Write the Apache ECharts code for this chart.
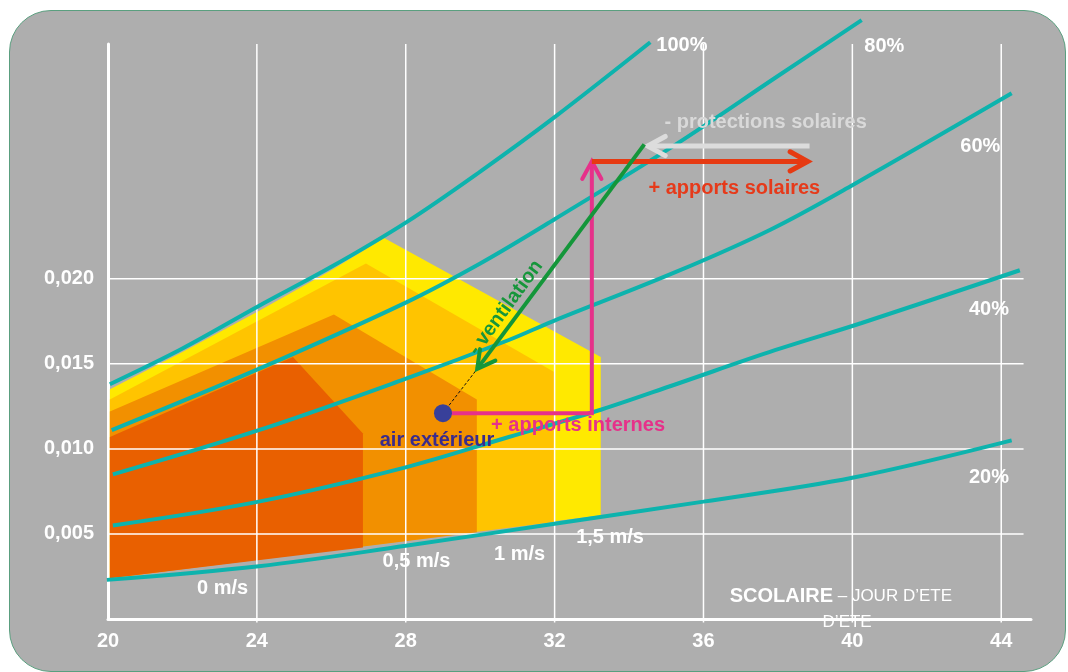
<!DOCTYPE html>
<html lang="fr">
<head>
    <meta charset="UTF-8">
    <title>Diagramme de l'air humide - scolaire, jour d'été</title>
    <style>
        body {
            margin: 0;
            width: 1068px;
            height: 672px;
            overflow: hidden;
            background: #ffffff;
            font-family: "Liberation Sans", Arial, sans-serif;
        }

        .panel {
            position: absolute;
            left: 9px;
            top: 10px;
            width: 1057px;
            height: 662px;
            box-sizing: border-box;
            background: #aeaeae;
            border: 1.5px solid #5a9f7f;
            border-radius: 42px;
        }

        #chart {
            position: absolute;
            left: 0;
            top: 0;
            width: 1068px;
            height: 672px;
        }
    </style>
    <script src="https://cdn.jsdelivr.net/npm/echarts@6/dist/echarts.min.js"></script>
</head>
<body>
    <div class="panel"></div>
    <div id="chart"></div>

    <script>
        // axes
        const xTicks = [20, 24, 28, 32, 36, 40, 44];
        const yTicks = [0.005, 0.010, 0.015, 0.020];

        // courbes d'humidité relative (température, humidité absolue)
        const rh100 = [[20.05, 0.0138], [22.0, 0.0159], [24.05, 0.0184], [26.0, 0.0207], [28.0, 0.0233], [30.0, 0.0263], [32.0, 0.0295], [34.57, 0.0339]];
        const rh80 = [[20.1, 0.0111], [24.05, 0.0147], [28.0, 0.0186], [30.0, 0.0209], [32.0, 0.0235], [35.26, 0.0279], [37.92, 0.0318], [40.25, 0.0352]];
        const rh60 = [[20.13, 0.0085], [24.05, 0.0111], [27.97, 0.0141], [30.77, 0.0164], [31.95, 0.0175], [35.26, 0.0204], [37.81, 0.0229], [40.0, 0.0255], [44.28, 0.0309]];
        const rh40 = [[20.13, 0.0055], [24.05, 0.0069], [27.97, 0.0089], [30.77, 0.0107], [33.24, 0.0123], [35.26, 0.0138], [37.92, 0.0158], [40.25, 0.0174], [44.5, 0.0205]];
        const rh20 = [[19.97, 0.0023], [24.05, 0.0031], [28.0, 0.0043], [32.0, 0.0056], [36.0, 0.0069], [40.0, 0.0083], [44.28, 0.0105]];
        const rhNames = ['100%', '80%', '60%', '40%', '20%'];
        const rhLabelPos = [[35.42, 0.0337], [40.86, 0.03365], [43.44, 0.0278], [43.67, 0.0182], [43.67, 0.0083]];

        // zones de confort selon la vitesse d'air
        const zoneSpeed15 = [[20.05, 0.0135], [22.0, 0.0157], [24.05, 0.0181], [26.0, 0.0205], [27.42, 0.0224], [33.24, 0.0154], [33.24, 0.0061], [20.05, 0.0024]];
        const zoneSpeed1 = [[20.05, 0.0129], [26.93, 0.0209], [32.0, 0.0145], [32.0, 0.0057], [20.05, 0.0024]];
        const zoneSpeed05 = [[20.05, 0.0122], [26.07, 0.0179], [29.91, 0.0129], [29.91, 0.0051], [20.05, 0.0024]];
        const zoneSpeed0 = [[20.05, 0.0107], [24.97, 0.0154], [26.85, 0.0109], [26.85, 0.0042], [20.05, 0.0024]];
        const speedNames = ['0 m/s', '0,5 m/s', '1 m/s', '1,5 m/s'];
        const speedLabelPos = [[23.08, 0.0018], [28.29, 0.0034], [31.06, 0.0038], [33.49, 0.0048]];

        // point d'air extérieur et évolutions
        const airPoint = [29.0, 0.0121];
        const internalPath = [[29.0, 0.0121], [33.0, 0.0121], [33.0, 0.0269]];
        const solarPath = [[33.0, 0.0269], [38.8, 0.0269]];
        const protectionPath = [[38.85, 0.0278], [34.5, 0.0278]];
        const ventilationPath = [[34.41, 0.0279], [29.92, 0.0147]];
        const dashPath = [[29.0, 0.0121], [29.92, 0.0147]];

        const notes = [
            ['air extérieur', 28.84, 0.0105],
            ['+ apports internes', 32.63, 0.0114],
            ['+ apports solaires', 36.83, 0.0253],
            ['- protections solaires', 37.67, 0.0292],
            ['- ventilation', 30.69, 0.0183]
        ];
        const footer = [['SCOLAIRE', ' – JOUR D’ETE', 39.69, 0.00135], ['', 'D’ETE', 39.86, -0.0002]];

        const FONT = '"Liberation Sans", Arial, sans-serif';
        const TEAL = '#0db3ad';
        const zoneColors = ['#ffe900', '#ffc400', '#f29000', '#e96000'];
        const noteStyles = [
            { color: '#3a2b8c' },
            { color: '#e6318a' },
            { color: '#e63a1a' },
            { color: '#d9d9d9' },
            { color: '#16963b', rotate: 54 }
        ];

        const zones = [zoneSpeed15, zoneSpeed1, zoneSpeed05, zoneSpeed0];
        const arrows = [
            { path: dashPath, color: '#111111', width: 1, dash: [3, 2], head: false },
            { path: internalPath, color: '#e6318a', width: 4, head: true },
            { path: solarPath, color: '#e63a12', width: 5, head: true },
            { path: protectionPath, color: '#dcdcdc', width: 5, head: true },
            { path: ventilationPath, color: '#14963a', width: 4, head: true }
        ];

        const chart = echarts.init(document.getElementById('chart'));

        function zoneItem(params, api) {
            const pts = zones[params.dataIndex].map(p => api.coord(p));
            return {
                type: 'polygon',
                shape: { points: pts },
                style: { fill: zoneColors[params.dataIndex] }
            };
        }

        function arrowItem(params, api) {
            const a = arrows[params.dataIndex];
            const pts = a.path.map(p => api.coord(p));
            const children = [{
                type: 'polyline',
                shape: { points: pts },
                style: { stroke: a.color, lineWidth: a.width, fill: null, lineDash: a.dash || null, lineJoin: 'miter' }
            }];
            if (a.head) {
                const [x2, y2] = pts[pts.length - 1];
                const [x1, y1] = pts[pts.length - 2];
                const ang = Math.atan2(y2 - y1, x2 - x1);
                const len = 20, spread = 0.5;
                children.push({
                    type: 'polyline',
                    shape: {
                        points: [
                            [x2 - len * Math.cos(ang - spread), y2 - len * Math.sin(ang - spread)],
                            [x2, y2],
                            [x2 - len * Math.cos(ang + spread), y2 - len * Math.sin(ang + spread)]
                        ]
                    },
                    style: { stroke: a.color, lineWidth: a.width, fill: null, lineJoin: 'miter', lineCap: 'round' }
                });
            }
            return { type: 'group', children: children };
        }

        // lignes de la grille
        const gridSeries = [];
        xTicks.slice(1).forEach(x => {
            gridSeries.push({
                type: 'line', data: [[x, -0.0002], [x, 0.0338]],
                symbol: 'none', silent: true, clip: false, z: 2,
                lineStyle: { color: '#ffffff', width: 1.5 }
            });
        });
        yTicks.forEach(y => {
            gridSeries.push({
                type: 'line', data: [[19.9, y], [44.6, y]],
                symbol: 'none', silent: true, clip: false, z: 2,
                lineStyle: { color: '#ffffff', width: 1.5 }
            });
        });

        const curveSeries = [rh100, rh80, rh60, rh40, rh20].map((d, i) => ({
            name: rhNames[i],
            type: 'line',
            data: d,
            smooth: 0.35,
            symbol: 'none',
            clip: false,
            silent: true,
            z: 3,
            lineStyle: { color: TEAL, width: 4 }
        }));

        function textSeries(items, z) {
            return {
                type: 'scatter',
                symbolSize: 1,
                silent: true,
                clip: false,
                z: z,
                itemStyle: { color: 'transparent', opacity: 1 },
                data: items
            };
        }

        const whiteText = { show: true, position: 'inside', color: '#ffffff', opacity: 1, fontFamily: FONT, fontWeight: 'bold', fontSize: 20 };

        const option = {
            animation: false,
            grid: { left: 108, right: 37, top: 44, bottom: 53, containLabel: false },
            xAxis: {
                type: 'value',
                min: 20,
                max: 44.8,
                interval: 4,
                splitLine: { show: false },
                axisTick: { show: false },
                axisLine: { lineStyle: { color: '#ffffff', width: 3 } },
                axisLabel: {
                    color: '#ffffff', fontFamily: FONT, fontWeight: 'bold', fontSize: 20, margin: 12,
                    formatter: v => (xTicks.indexOf(v) >= 0 ? String(v) : '')
                }
            },
            yAxis: {
                type: 'value',
                min: 0,
                max: 0.0338,
                interval: 0.005,
                splitLine: { show: false },
                axisTick: { show: false },
                axisLine: { show: true, lineStyle: { color: '#ffffff', width: 3 } },
                axisLabel: {
                    color: '#ffffff', fontFamily: FONT, fontWeight: 'bold', fontSize: 20, margin: 14,
                    formatter: v => (yTicks.some(t => Math.abs(t - v) < 1e-9) ? v.toFixed(3).replace('.', ',') : '')
                }
            },
            series: [
                {
                    type: 'custom',
                    renderItem: zoneItem,
                    data: zones.map(z => z[0]),
                    encode: { x: 0, y: 1 },
                    silent: true,
                    z: 1
                },
                ...gridSeries,
                ...curveSeries,
                {
                    type: 'custom',
                    renderItem: arrowItem,
                    data: arrows.map(a => a.path[0]),
                    encode: { x: 0, y: 1 },
                    silent: true,
                    z: 4
                },
                {
                    type: 'scatter',
                    data: [airPoint],
                    symbolSize: 18,
                    silent: true,
                    z: 5,
                    itemStyle: { color: '#38409a', opacity: 1 }
                },
                textSeries(rhNames.map((n, i) => ({ value: rhLabelPos[i], label: Object.assign({}, whiteText, { formatter: n }) })), 6),
                textSeries(speedNames.map((n, i) => ({ value: speedLabelPos[i], label: Object.assign({}, whiteText, { formatter: n }) })), 6),
                textSeries(notes.map((n, i) => ({
                    value: [n[1], n[2]],
                    label: Object.assign({}, whiteText, noteStyles[i], { formatter: n[0] })
                })), 6),
                textSeries(footer.map(f => ({
                    value: [f[2], f[3]],
                    label: {
                        show: true, position: 'inside', fontFamily: FONT, opacity: 1,
                        formatter: f[0] ? '{b|' + f[0] + '}{n|' + f[1] + '}' : '{n|' + f[1] + '}',
                        rich: {
                            b: { color: '#ffffff', fontWeight: 'bold', fontSize: 20, fontFamily: FONT },
                            n: { color: '#ffffff', fontWeight: 'normal', fontSize: 17, fontFamily: FONT }
                        }
                    }
                })), 6)
            ]
        };

        chart.setOption(option);
    </script>
</body>
</html>
